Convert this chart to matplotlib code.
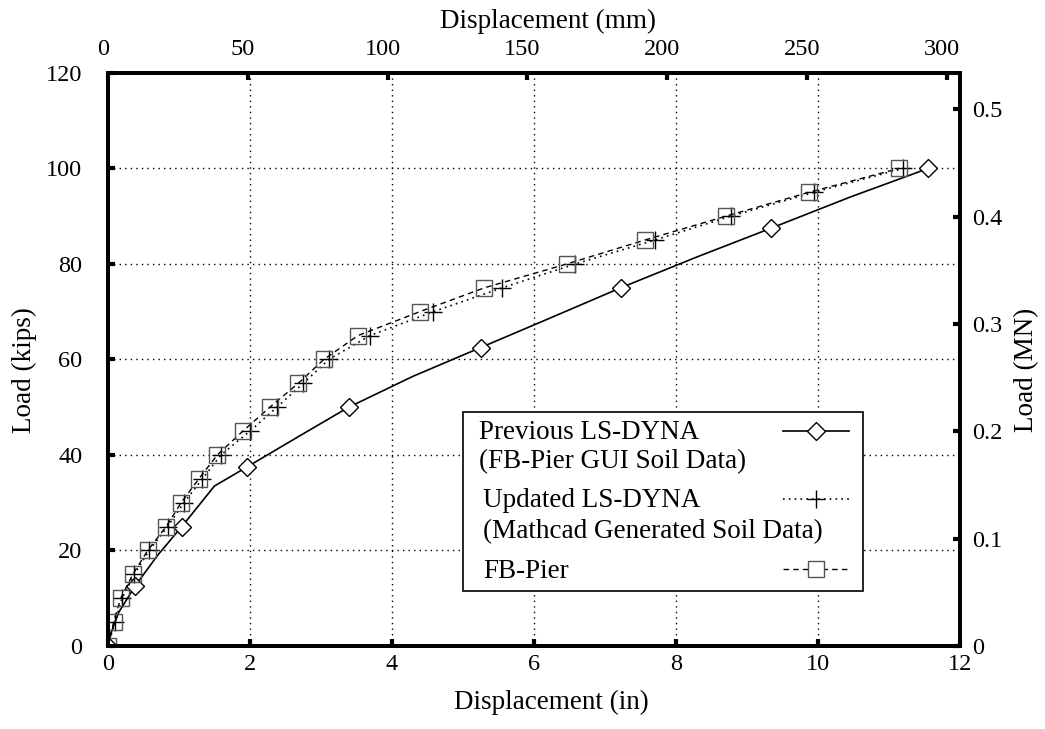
import numpy as np
import matplotlib.pyplot as plt
import matplotlib.transforms as mtransforms
from matplotlib.patches import Rectangle

plt.rcParams['font.family'] = ['Liberation Serif', 'DejaVu Serif']
plt.rcParams['font.size'] = 17.5

# Previous LS-DYNA (FB-Pier GUI soil data): line and marker points
prev_line_x = [0, 0.05, 0.15, 0.38, 0.7, 1.04, 1.5, 1.96, 2.7, 3.39, 4.3, 5.25, 6.2, 7.22, 8.3, 9.34, 10.45, 11.55]
prev_line_y = [0, 3, 7, 12.5, 19, 25, 33.5, 37.5, 44, 50, 56.5, 62.5, 68.5, 75, 81.5, 87.5, 94, 100]
prev_mark_x = [0, 0.38, 1.04, 1.96, 3.39, 5.25, 7.22, 9.34, 11.55]
prev_mark_y = [0, 12.5, 25, 37.5, 50, 62.5, 75, 87.5, 100]

# Updated LS-DYNA (Mathcad generated soil data)
upd_x = [0, 0.1, 0.2, 0.37, 0.58, 0.84, 1.07, 1.33, 1.59, 2.0, 2.38, 2.75, 3.11, 3.69,
         4.58, 5.55, 6.58, 7.7, 8.77, 9.94, 11.2]
upd_y = [0, 5, 10, 15, 20, 25, 30, 35, 40, 45, 50, 55, 60, 65, 70, 75, 80, 85, 90, 95, 100]

# FB-Pier
fb_x = [0, 0.08, 0.18, 0.35, 0.56, 0.82, 1.03, 1.28, 1.54, 1.90, 2.28, 2.68, 3.04, 3.52,
        4.39, 5.30, 6.46, 7.56, 8.70, 9.87, 11.14]
fb_y = [0, 5, 10, 15, 20, 25, 30, 35, 40, 45, 50, 55, 60, 65, 70, 75, 80, 85, 90, 95, 100]

labels = [["Previous LS-DYNA", "(FB-Pier GUI Soil Data)"],
          ["Updated LS-DYNA", "(Mathcad Generated Soil Data)"],
          ["FB-Pier"]]

prev_style = dict(color='black', lw=1.2)
prev_mk = dict(marker='D', ms=8.8, mfc='white', mec='black', mew=1)
upd_style = dict(color='black', ls=(0, (1, 2.5)), lw=1.2, marker='+', ms=12.5, mew=1)
fb_style = dict(color='black', ls=(0, (4, 3)), lw=1, marker='s', ms=12, mfc='none', mec='#555555', mew=1)

fig = plt.figure(figsize=(10.45, 7.29), dpi=100)
ax = fig.add_axes([0.1033, 0.1139, 0.8154, 0.786])

ax.plot(prev_line_x, prev_line_y, **prev_style)
ax.plot(prev_mark_x, prev_mark_y, ls='none', **prev_mk)
ax.plot(upd_x, upd_y, **upd_style)
ax.plot(fb_x, fb_y, **fb_style)

ax.set_xlim(0, 12)
ax.set_ylim(0, 120)
ax.set_xticks(np.arange(0, 13, 2))
ax.set_yticks(np.arange(0, 121, 20))
ax.grid(True, color='black', linestyle=(0, (1, 3)), lw=1)
ax.set_xlabel("Displacement (in)", fontsize=19.5)
ax.set_ylabel("Load (kips)", fontsize=19.5)
ax.xaxis.set_label_coords(0.52, -0.077)
ax.yaxis.set_label_coords(-0.083, 0.481)
ax.tick_params(axis='x', direction='in', length=5, width=3, pad=6, top=False)
ax.tick_params(axis='y', direction='in', length=5, width=3, pad=18.5, right=False)
for s in ax.spines.values():
    s.set_linewidth(2.8)

# top axis in mm
axt = ax.twiny()
axt.set_xlim(0, 12 * 25.4)
axt.set_xticks(np.arange(0, 301, 50))
axt.set_xlabel("Displacement (mm)", fontsize=19.5)
axt.xaxis.set_label_coords(0.517, 1.079)
axt.tick_params(direction='in', length=5, width=3, pad=9)
shift = mtransforms.ScaledTranslation(-5 / 100, 0, fig.dpi_scale_trans)
for t in axt.xaxis.get_major_ticks():
    t.label2.set_transform(t.label2.get_transform() + shift)

# right axis in MN
axr = ax.twinx()
axr.set_ylim(0, 120 * 4.448e-3)
axr.set_yticks([0, 0.1, 0.2, 0.3, 0.4, 0.5])
axr.set_yticklabels(['0', '0.1', '0.2', '0.3', '0.4', '0.5'])
axr.set_ylabel("Load (MN)", fontsize=19.5)
axr.yaxis.set_label_coords(1.063, 0.481)
axr.tick_params(direction='in', length=5, width=3, pad=8.5)
for a in (axt, axr):
    for s in a.spines.values():
        s.set_linewidth(2.8)

# legend box, text on the left, sample on the right
ax.add_patch(Rectangle((0.4167, 0.096), 0.4695, 0.3124, transform=ax.transAxes,
                       facecolor='white', edgecolor='black', lw=1.2, zorder=5))
text_x = [0.4354, 0.4401, 0.4401]
baselines = [[0.3613, 0.3106], [0.2426, 0.1885], [0.1187]]
for lab, tx, bl in zip(labels, text_x, baselines):
    for line, y in zip(lab, bl):
        ax.text(tx, y, line, transform=ax.transAxes, fontsize=19.5, va='baseline', ha='left', zorder=6)

hx = [0.7923, 0.8697]
hy = [0.3752, 0.2565, 0.1344]
ax.plot(hx, [hy[0]] * 2, transform=ax.transAxes, zorder=6, **prev_style)
ax.plot([0.831], [hy[0]], transform=ax.transAxes, zorder=7, ls='none', **prev_mk)
ax.plot(hx, [hy[1]] * 2, transform=ax.transAxes, zorder=6, **dict(upd_style, marker=None))
ax.plot([0.831], [hy[1]], transform=ax.transAxes, zorder=7, ls='none', marker='+', ms=12.5, mew=1, color='black')
ax.plot(hx, [hy[2]] * 2, transform=ax.transAxes, zorder=6, **dict(fb_style, marker=None))
ax.plot([0.831], [hy[2]], transform=ax.transAxes, zorder=7, ls='none', marker='s', ms=12,
        mfc='white', mec='#555555', mew=1)

fig.savefig("out.png", dpi=100)
